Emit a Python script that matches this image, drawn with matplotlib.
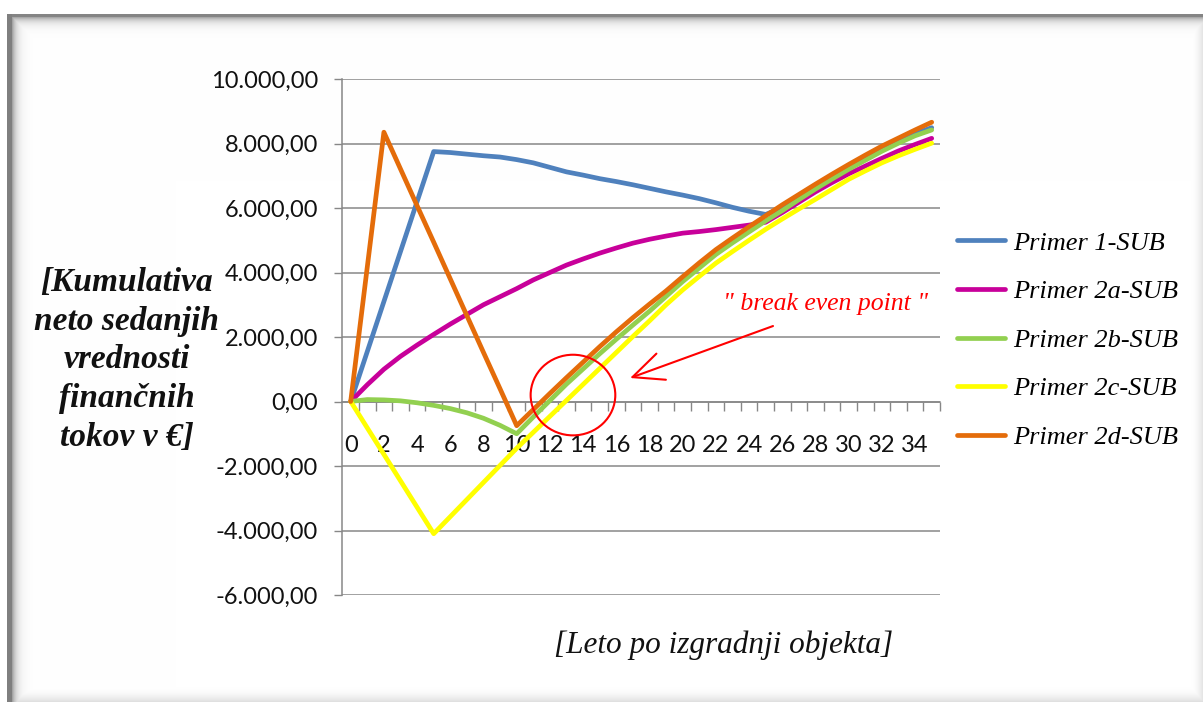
import numpy as np
import matplotlib
matplotlib.use("Agg")
import matplotlib.pyplot as plt
from matplotlib.patches import Ellipse
from matplotlib.ticker import FixedLocator, FuncFormatter, NullFormatter

# ---- data -------------------------------------------------------------
years = list(range(36))

primer_1 = [0, 1550, 3100, 4650, 6200, 7750, 7720, 7670, 7620, 7580, 7500,
            7400, 7260, 7120, 7020, 6910, 6820, 6720, 6610, 6500, 6400,
            6290, 6160, 6020, 5900, 5800, 6010, 6340, 6670, 6980, 7280,
            7560, 7840, 8090, 8310, 8490]
primer_2a = [0, 520, 1000, 1400, 1750, 2080, 2400, 2700, 3000, 3250, 3500,
             3770, 4000, 4230, 4420, 4600, 4760, 4910, 5030, 5130, 5220,
             5270, 5330, 5400, 5470, 5560, 5860, 6180, 6500, 6790, 7060,
             7300, 7540, 7770, 7970, 8160]
primer_2b = [0, 60, 50, 20, -40, -120, -220, -350, -520, -740, -1000,
             -480, 30, 540, 1010, 1480, 1930, 2370, 2800, 3260, 3720,
             4140, 4560, 4920, 5260, 5600, 5920, 6260, 6590, 6900, 7200,
             7480, 7760, 8010, 8240, 8420]
primer_2c = [0, -820, -1640, -2460, -3280, -4100, -3570, -3040, -2510, -1980, -1450,
             -955, -460, 35, 530, 1025, 1520, 2016, 2500, 3000, 3460,
             3880, 4290, 4650, 5000, 5340, 5660, 5970, 6270, 6580, 6890,
             7150, 7400, 7620, 7820, 8010]
primer_2d = [0, 4175, 8350, 7210, 6070, 4940, 3800, 2660, 1520, 390, -750,
             -250, 250, 740, 1220, 1700, 2160, 2600, 3020, 3430, 3870,
             4300, 4710, 5070, 5420, 5760, 6100, 6420, 6740, 7050, 7350,
             7640, 7920, 8170, 8420, 8660]

series_labels = ["Primer 1-SUB", "Primer 2a-SUB", "Primer 2b-SUB",
                 "Primer 2c-SUB", "Primer 2d-SUB"]
series_colors = ["#4F81BD", "#C8009A", "#92D050", "#FFFF00", "#E46C0A"]

y_ticks = [-6000, -4000, -2000, 0, 2000, 4000, 6000, 8000, 10000]
x_tick_labels = list(range(0, 36, 2))

y_title = "[Kumulativa\nneto sedanjih\nvrednosti\nfinančnih\ntokov v €]"
x_title = "[Leto po izgradnji objekta]"
note_text = '" break even point "'

# ---- figure -----------------------------------------------------------
W, H = 1203, 702
fig = plt.figure(figsize=(W / 100, H / 100), dpi=100)
fig.patch.set_facecolor("white")

# framed background with a soft inner shadow
xx = np.arange(W)[None, :].astype(float)
yy = np.arange(H)[:, None].astype(float)
left = np.where(xx < 7, 1.0,
                np.where(xx <= 11, 0.5, 1 - 0.45 * np.exp(-(xx - 11) / 4.5)))
top = np.where(yy < 14, 1.0,
               np.where(yy <= 16, 0.52, 1 - 0.42 * np.exp(-(yy - 16) / 4.5)))
right = 1 - 0.10 * np.clip((xx - 1190) / 12, 0, 1) ** 2
bottom = 1 - 0.12 * np.clip((yy - 686) / 15, 0, 1) ** 2
bg = np.minimum(np.minimum(left + 0 * yy, top + 0 * xx),
                np.minimum(right + 0 * yy, bottom + 0 * xx))
bg[yy[:, 0] < 14, :] = 1.0
bg[:, xx[0] < 7] = 1.0
rgb = np.dstack([bg, bg, bg])
fig.figimage(rgb, 0, 0, zorder=-5, origin="upper")

ax = fig.add_axes([342.4 / W, 1 - 595 / H, (940 - 342.4) / W, (595 - 79) / H])
ax.patch.set_alpha(0)

grid_color = "#878787"
for vals, col, lab in zip([primer_1, primer_2a, primer_2b, primer_2c, primer_2d],
                          series_colors, series_labels):
    ax.plot(years, vals, color=col, lw=3.4, label=lab,
            solid_joinstyle="round", solid_capstyle="round", zorder=3)

ax.set_xlim(-0.5, 35.5)
ax.set_ylim(-6000, 10000)

# y axis
ax.yaxis.set_major_locator(FixedLocator(y_ticks))


def euro_fmt(v, pos):
    s = f"{v:,.2f}"
    return s.replace(",", "X").replace(".", ",").replace("X", ".")


ax.yaxis.set_major_formatter(FuncFormatter(euro_fmt))
ax.tick_params(axis="y", which="major", direction="out", length=5.5, width=1,
               color=grid_color, pad=12, labelsize=17, labelcolor="#111111")
ax.grid(axis="y", color=grid_color, lw=1.1, zorder=1)
ax.set_axisbelow(True)

# x axis crossing at zero, category labels every second year
ax.spines["bottom"].set_position(("data", 0))
ax.spines["bottom"].set_color(grid_color)
ax.spines["bottom"].set_linewidth(1.1)
ax.spines["left"].set_color(grid_color)
ax.spines["left"].set_linewidth(1.1)
ax.spines["top"].set_visible(False)
ax.spines["right"].set_visible(False)
ax.xaxis.set_major_locator(FixedLocator(x_tick_labels))
ax.xaxis.set_minor_locator(FixedLocator(np.arange(0.5, 35.6, 1.0)))
ax.xaxis.set_minor_formatter(NullFormatter())
ax.tick_params(axis="x", which="major", length=0, pad=24, labelsize=17,
               labelcolor="#111111")
ax.tick_params(axis="x", which="minor", direction="out", length=6.5, width=1,
               color=grid_color)

for lab in ax.get_xticklabels() + ax.get_yticklabels():
    lab.set_fontfamily("Lato")

# break-even marker
ax.add_patch(Ellipse((13.39, 200), width=5.1, height=2500, fill=False,
                     edgecolor="#FF0000", lw=1.5, zorder=4))
ax.annotate("", xy=(16.83, 729), xytext=(25.44, 2340),
            arrowprops=dict(arrowstyle="->,head_length=1.1,head_width=0.5",
                            color="#FF0000", lw=1.5, mutation_scale=20,
                            shrinkA=0, shrinkB=0),
            zorder=4)
ax.text(28.6, 3020, note_text, color="#FF0000", fontsize=18.5,
        family="Liberation Serif", style="italic", ha="center", va="center")

# legend
leg = ax.legend(loc="center left", bbox_to_anchor=(957 / W, 1 - 340 / H),
                bbox_transform=fig.transFigure, frameon=False,
                prop={"family": "Liberation Serif", "style": "italic", "size": 19},
                handlelength=1.82, handletextpad=0.3, labelspacing=0.95,
                borderpad=0, borderaxespad=0)
for line in leg.get_lines():
    line.set_linewidth(3.4)

# axis titles
fig.text(127 / W, 1 - 360 / H, y_title, ha="center", va="center",
         multialignment="center", family="Liberation Serif", style="italic",
         weight="bold", fontsize=24, linespacing=1.33, color="#111111")
fig.text(724 / W, 1 - 645 / H, x_title, ha="center", va="center",
         family="Liberation Serif", style="italic", fontsize=22.5, color="#111111")

fig.savefig("out.png", dpi=100)
